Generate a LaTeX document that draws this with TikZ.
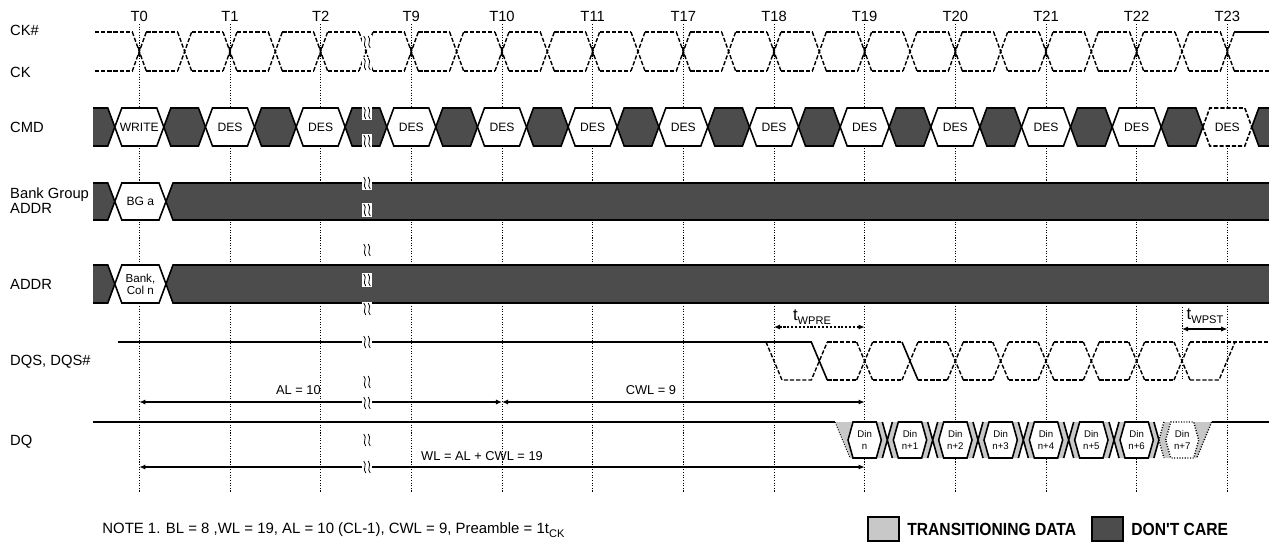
\documentclass[tikz,border=0pt]{standalone}
\usepackage{fontspec}
\setmainfont{Liberation Sans}
\newfontfamily\legendfont[FakeStretch=0.89]{Liberation Sans}
\usetikzlibrary{arrows.meta, calc}

\definecolor{dcgray}{HTML}{4C4C4C}
\definecolor{trgray}{HTML}{C8C8C8}

\newcommand\lbfont{\fontsize{8.4}{9}\selectfont}
\newcommand\lowtxt[1]{\raisebox{-0.45ex}{\fontsize{6.3}{7}\selectfont #1}}

% hexagon: style, left x, right x, top y, bottom y, slant
\newcommand\hexcell[6]{%
  \draw[#1] (#2,{(#4+#5)/2}) -- ({#2+#6},#4) -- ({#3-#6},#4) -- (#3,{(#4+#5)/2})
    -- ({#3-#6},#5) -- ({#2+#6},#5) -- cycle;}

% break mark
\newcommand\brkmark[2]{%
  \fill[white] ({#1-5},{#2-7}) rectangle ({#1+5},{#2+7});
  \draw[brkline] ({#1-3.2},{#2-6}) .. controls ({#1+0.8},{#2-2}) and ({#1-5.2},{#2+2}) .. ({#1-1.2},{#2+6});
  \draw[brkline] ({#1+1.2},{#2-6}) .. controls ({#1+5.2},{#2-2}) and ({#1-0.8},{#2+2}) .. ({#1+3.2},{#2+6});}

\tikzset{
  tgrid/.style={line width=0.5pt, dash pattern=on 0.6pt off 0.9pt},
  clkline/.style={line width=0.8pt, dash pattern=on 2.4pt off 1.1pt},
  sigline/.style={line width=0.9pt},
  cellwhite/.style={sigline, fill=white},
  celldark/.style={sigline, fill=dcgray},
  brkline/.style={line width=0.45pt},
  dimarrow/.style={line width=0.7pt, >={Latex[length=3.5pt,width=3pt]}, <->},
  rowlabel/.style={anchor=west, align=left, font=\fontsize{8.4}{8.6}\selectfont},
  celltext/.style={inner sep=0pt, align=center, font=\fontsize{6.9}{6.9}\selectfont},
  dintext/.style={inner sep=0pt, align=center, font=\fontsize{5.5}{6.6}\selectfont},
  dimtext/.style={inner sep=0pt, font=\fontsize{7.3}{8}\selectfont}
}

\begin{document}
\begin{tikzpicture}[x=0.02cm, y=-0.02cm, font=\lbfont]
\useasboundingbox (0,0) rectangle (1269,542);

% clock grid
\foreach \lab [count=\i from 0] in {T0,T1,T2,T9,T10,T11,T17,T18,T19,T20,T21,T22,T23} {
  \pgfmathsetmacro\xx{139.3+90.67*\i}
  \coordinate (\lab) at (\xx,0);
  \node[anchor=base, inner sep=0pt] (n\lab) at (\xx,21) {\lab};
  \draw[tgrid] (\xx,24) -- (\xx,492);
  \fill (\xx,51.5) -- ++(-2,-4.5) -- ++(4,0) -- cycle;
  \fill (\xx,51.5) -- ++(-2,4.5) -- ++(4,0) -- cycle;
}

% signal names
\node[rowlabel] (lblCKn) at (4,30) {CK\#};
\node[rowlabel] (lblCK) at (4,72) {CK};
\node[rowlabel] (lblCMD) at (4,127) {CMD};
\node[rowlabel] (lblBG) at (4,201) {Bank Group\\ADDR};
\node[rowlabel] (lblADDR) at (4,284) {ADDR};
\node[rowlabel] (lblDQS) at (4,362) {DQS, DQS\#};
\node[rowlabel] (lblDQ) at (4,442) {DQ};

% CK, CK#
\draw[clkline] (95,32) -- (132.3,32) (95,71) -- (132.3,71);
\foreach \k in {0,...,24} {
  \pgfmathsetmacro\xc{139.3+45.335*\k}
  \draw[clkline] (\xc-7,32) -- (\xc+7,71) (\xc-7,71) -- (\xc+7,32);
}
\foreach \k in {0,...,23} {
  \pgfmathsetmacro\xc{139.3+45.335*\k}
  \draw[clkline] (\xc+7,32) -- (\xc+38.3,32) (\xc+7,71) -- (\xc+38.3,71);
}
\draw[clkline] (1234.3,71) -- (1269,71);
\draw[sigline] (1234.3,32) -- (1269,32);

% CMD
\fill[dcgray] (93,108) -- (107.8,108) -- (114.8,127) -- (107.8,146) -- (93,146) -- cycle;
\draw[sigline] (93,108) -- (107.8,108) -- (114.8,127) -- (107.8,146) -- (93,146);
\foreach \i in {0,...,11} {
  \pgfmathsetmacro\xa{139.3+90.67*\i+24.5}
  \hexcell{celldark}{\xa}{\xa+41.67}{108}{146}{7}
}
\foreach \i/\txt in {0/WRITE,1/DES,2/DES,3/DES,4/DES,5/DES,6/DES,7/DES,8/DES,9/DES,10/DES,11/DES} {
  \pgfmathsetmacro\xx{139.3+90.67*\i}
  \hexcell{cellwhite}{\xx-24.5}{\xx+24.5}{108}{146}{7}
  \node[celltext] (cmd\i) at (\xx,127) {\txt};
}
\hexcell{cellwhite, dash pattern=on 2.4pt off 1.1pt}{1202.8}{1251.8}{108}{146}{7}
\node[celltext] (cmd12) at (1227.3,127) {DES};
\fill[dcgray] (1269,108) -- (1258.8,108) -- (1251.8,127) -- (1258.8,146) -- (1269,146) -- cycle;
\draw[sigline] (1269,108) -- (1258.8,108) -- (1251.8,127) -- (1258.8,146) -- (1269,146);

% Bank Group ADDR
\fill[dcgray] (93,183) -- (107.8,183) -- (114.8,201.5) -- (107.8,220) -- (93,220) -- cycle;
\draw[sigline] (93,183) -- (107.8,183) -- (114.8,201.5) -- (107.8,220) -- (93,220);
\hexcell{cellwhite}{114.8}{166}{183}{220}{7}
\node[celltext] (bga) at (140.4,201.5) {BG a};
\fill[dcgray] (1269,183) -- (173,183) -- (166,201.5) -- (173,220) -- (1269,220) -- cycle;
\draw[sigline] (1269,183) -- (173,183) -- (166,201.5) -- (173,220) -- (1269,220);

% ADDR
\fill[dcgray] (93,265) -- (107.8,265) -- (114.8,284) -- (107.8,303) -- (93,303) -- cycle;
\draw[sigline] (93,265) -- (107.8,265) -- (114.8,284) -- (107.8,303) -- (93,303);
\hexcell{cellwhite}{114.8}{166}{265}{303}{7}
\node[celltext, font=\fontsize{6.6}{6.8}\selectfont] (bankcol) at (140.4,284) {Bank,\\Col n};
\fill[dcgray] (1269,265) -- (173,265) -- (166,284) -- (173,303) -- (1269,303) -- cycle;
\draw[sigline] (1269,265) -- (173,265) -- (166,284) -- (173,303) -- (1269,303);

% DQS, DQS#
\draw[sigline] (118,342) -- (811.3,342) -- (827.3,380);
\draw[clkline] (766,342) -- (782,380) -- (811.3,380) -- (827.3,342);
\foreach \m in {1,...,8} {
  \pgfmathsetmacro\xc{773.99+45.335*(\m+1)}
  \ifnum\m=2
    \draw[sigline] (\xc-8,342) -- (\xc+8,380);
  \else
    \draw[clkline] (\xc-8,342) -- (\xc+8,380);
  \fi
  \draw[clkline] (\xc-8,380) -- (\xc+8,342);
}
\foreach \m in {0,...,7} {
  \pgfmathsetmacro\xc{773.99+45.335*(\m+1)}
  \draw[clkline] (\xc+8,342) -- (\xc+37.3,342) (\xc+8,380) -- (\xc+37.3,380);
}
\draw[clkline] (1190,342) -- (1269,342);
\draw[clkline] (1190,380) -- (1219,380) -- (1235,342);

% DQ
\draw[sigline] (93,422) -- (835,422);
\draw[sigline] (1211.7,422) -- (1269,422);
\fill[trgray] (835,422) -- (852,422) -- (847,440) -- (852,458) -- (850,458) -- cycle;
\draw[tgrid] (835,422) -- (850,458);
\foreach \k in {1,...,7} {
  \pgfmathsetmacro\xc{864.66+45.335*(\k-0.5)}
  \fill[trgray] (\xc-11,422) -- (\xc-5,422) -- (\xc,440) -- (\xc-5,458) -- (\xc-11,458) -- (\xc-6,440) -- cycle;
  \fill[trgray] (\xc+5,422) -- (\xc+11,422) -- (\xc+6,440) -- (\xc+11,458) -- (\xc+5,458) -- (\xc,440) -- cycle;
}
\foreach \k in {1,...,6} {
  \pgfmathsetmacro\xc{864.66+45.335*(\k-0.5)}
  \draw[sigline] (\xc-5,422) -- (\xc+5,458) (\xc-5,458) -- (\xc+5,422);
}
\draw[sigline] (1153.9,422) -- (1158.9,440) -- (1153.9,458);
\draw[tgrid, line width=0.8pt] (1163.9,422) -- (1158.9,440) -- (1163.9,458);
\fill[trgray] (1193.7,422) -- (1211.7,422) -- (1196.7,458) -- (1193.7,458) -- (1198.7,440) -- cycle;
\draw[tgrid, line width=0.8pt] (1211.7,422) -- (1196.7,458);
\foreach \j/\txt in {0/n,1/n+1,2/n+2,3/n+3,4/n+4,5/n+5,6/n+6} {
  \pgfmathsetmacro\xe{864.66+45.335*\j}
  \hexcell{cellwhite}{\xe-16.67}{\xe+16.67}{422}{458}{5}
  \node[dintext] (din\j) at (\xe,440) {Din\\\txt};
}
\hexcell{cellwhite, tgrid, line width=0.8pt}{1165.7}{1198.7}{422}{458}{5}
\node[dintext] (din7) at (1182.2,440) {Din\\n+7};

% timing arrows
\coordinate (alY) at (0,402);
\coordinate (wlY) at (0,467);
\coordinate (preY) at (0,327);
\coordinate (pst) at (1182,329);
\draw[dimarrow] (T0 |- alY) -- (T10 |- alY);
\draw[dimarrow] (T10 |- alY) -- (T19 |- alY);
\draw[dimarrow] (T0 |- wlY) -- (T19 |- wlY);
\draw[dimarrow, dash pattern=on 1.2pt off 1pt] (T18 |- preY) -- (T19 |- preY);
\draw[tgrid] (1182,307) -- (1182,380);
\draw[dimarrow] (pst) -- (T23 |- pst);

\node[dimtext, anchor=east] (lblAL) at (321,390) {AL = 10};
\node[dimtext] (lblCWL) at (651,390) {CWL = 9};
\node[dimtext] (lblWL) at (482,456) {WL = AL + CWL = 19};
\node[font=\fontsize{9.5}{10}\selectfont, inner sep=0pt] (lblWPRE) at (812,317) {t\lowtxt{WPRE}};
\node[font=\fontsize{9.5}{10}\selectfont, inner sep=0pt] (lblWPST) at (1205,316) {t\lowtxt{WPST}};

% breaks
\foreach \by in {42,64,113,141,183,210,250,280,309,342,382,403,440,467} {
  \brkmark{367}{\by}
}

% note
\node[anchor=west, inner sep=0pt, font=\fontsize{8.5}{9}\selectfont] (note) at (102,530)
  {NOTE 1. BL = 8 ,WL = 19, AL = 10 (CL-1), CWL = 9, Preamble = 1t\lowtxt{CK}};

% legend
\node[rectangle, fill=trgray, draw, line width=0.6pt, minimum width=0.62cm, minimum height=0.48cm]
  (legTR) at (883.5,529) {};
\node[anchor=west, inner sep=0pt, font=\legendfont\bfseries\fontsize{10}{11}\selectfont]
  (legTRtxt) at (907,529) {TRANSITIONING DATA};
\node[rectangle, fill=dcgray, draw, line width=0.6pt, minimum width=0.62cm, minimum height=0.48cm]
  (legDC) at (1107.5,529) {};
\node[anchor=west, inner sep=0pt, font=\legendfont\bfseries\fontsize{10}{11}\selectfont]
  (legDCtxt) at (1131,529) {DON'T CARE};
\end{tikzpicture}
\end{document}
